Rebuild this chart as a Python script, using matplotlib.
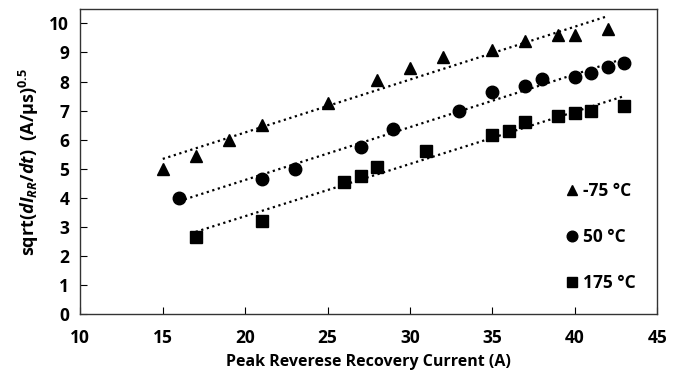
import numpy as np
import matplotlib
matplotlib.use("Agg")
import matplotlib.pyplot as plt

plt.rcParams['font.family'] = ['Open Sans', 'DejaVu Sans']
plt.rcParams['font.weight'] = 'bold'
plt.rcParams['mathtext.fontset'] = 'custom'
plt.rcParams['mathtext.rm'] = 'Open Sans:bold'
plt.rcParams['mathtext.it'] = 'Open Sans:bold:italic'
plt.rcParams['mathtext.bf'] = 'Open Sans:bold'

# peak reverse recovery current (A) and sqrt(dIrr/dt) for each temperature
x_m75 = [15, 17, 19, 21, 25, 28, 30, 32, 35, 37, 39, 40, 42]
y_m75 = [5.0, 5.45, 6.0, 6.5, 7.25, 8.05, 8.45, 8.85, 9.1, 9.4, 9.6, 9.6, 9.8]

x_50 = [16, 21, 23, 27, 29, 33, 35, 37, 38, 40, 41, 42, 43]
y_50 = [4.0, 4.65, 5.0, 5.75, 6.35, 7.0, 7.65, 7.85, 8.1, 8.15, 8.3, 8.5, 8.65]

x_175 = [17, 21, 26, 27, 28, 31, 35, 36, 37, 39, 40, 41, 43]
y_175 = [2.65, 3.2, 4.55, 4.75, 5.05, 5.6, 6.15, 6.3, 6.6, 6.8, 6.9, 7.0, 7.15]

labels = ['-75 °C', '50 °C', '175 °C']
markers = ['^', 'o', 's']

fig = plt.figure(figsize=(6.81, 3.84), dpi=100)
ax = fig.add_axes([0.118, 0.182, 0.847, 0.795])

series = [(x_m75, y_m75), (x_50, y_50), (x_175, y_175)]
for (xs, ys), lab, mk in zip(series, labels, markers):
    xs = np.array(xs)
    ys = np.array(ys)
    ax.plot(xs, ys, linestyle='none', marker=mk, color='black',
            markersize=9 if mk != 's' else 8.5, label=lab)
    # linear trendline over the data range
    k, b = np.polyfit(xs, ys, 1)
    xf = np.array([xs.min(), xs.max()])
    ax.plot(xf, k * xf + b, linestyle=(0, (1, 1.6)), color='black', linewidth=1.6)

ax.set_xlim(10, 45)
ax.set_ylim(0, 10.5)
ax.set_xticks(range(10, 46, 5))
ax.set_yticks(range(0, 11))
ax.tick_params(direction='in', length=5, labelsize=12.5, pad=8)
ax.tick_params(axis='x', pad=11)
for lab in ax.get_xticklabels() + ax.get_yticklabels():
    lab.set_fontweight('bold')
for s in ax.spines.values():
    s.set_linewidth(1.0)
    s.set_color('#333333')

ax.set_xlabel('Peak Reverese Recovery Current (A)', fontsize=11.5, fontweight='bold', labelpad=5)
ax.set_ylabel(r'sqrt($\mathit{dI_{RR}/dt}$)  (A/μs)$^{0.5}$', fontsize=13, fontweight='bold', labelpad=6)

leg = ax.legend(loc='lower right', frameon=False, labelspacing=1.62,
                handlelength=0.6, handletextpad=0.3, borderaxespad=0.85,
                markerscale=0.85, prop={'weight': 'bold', 'size': 12.5})

fig.savefig('out.png', dpi=100)
